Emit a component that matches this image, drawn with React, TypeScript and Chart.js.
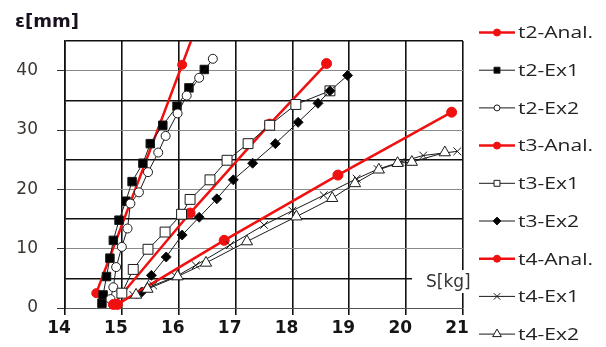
import React, { useEffect, useRef } from 'react';
import { Chart, registerables } from 'chart.js';

Chart.register(...registerables);

const seriesLabels = ['t2-Anal.', 't2-Ex1', 't2-Ex2', 't3-Anal.', 't3-Ex1', 't3-Ex2', 't4-Anal.', 't4-Ex1', 't4-Ex2'];

const t2AnalX = [14.55, 16.06, 16.45];
const t2AnalY = [2.5, 41.0, 51.0];

const t2Ex1X = [14.65, 14.67, 14.73, 14.79, 14.85, 14.95, 15.07, 15.18, 15.37, 15.5, 15.72, 15.97, 16.18, 16.45];
const t2Ex1Y = [0.8, 2.2, 5.3, 8.4, 11.4, 14.8, 18.0, 21.3, 24.4, 27.7, 30.8, 34.0, 37.1, 40.2];

const t2Ex2X = [14.8, 14.85, 14.9, 15.0, 15.1, 15.15, 15.3, 15.46, 15.64, 15.77, 15.98, 16.14, 16.36, 16.6];
const t2Ex2Y = [1.5, 3.5, 6.9, 10.3, 13.4, 17.6, 19.5, 22.9, 26.2, 29.0, 32.8, 35.8, 38.8, 42.0];

const t3AnalX = [14.85, 16.2, 17.6, 18.6];
const t3AnalY = [0.6, 16.0, 31.0, 41.2];

const t3Ex1X = [15.0, 15.2, 15.46, 15.76, 16.05, 16.2, 16.55, 16.85, 17.22, 17.6, 18.06, 18.66];
const t3Ex1Y = [2.5, 6.5, 9.9, 12.8, 15.8, 18.3, 21.6, 24.9, 27.7, 30.8, 34.3, 36.6];

const t3Ex2X = [15.35, 15.52, 15.78, 16.06, 16.36, 16.67, 16.96, 17.3, 17.7, 18.1, 18.45, 18.66, 18.97];
const t3Ex2Y = [2.7, 5.5, 8.6, 12.3, 15.3, 18.4, 21.6, 24.4, 27.7, 31.3, 34.5, 36.6, 39.2];

const t4AnalX = [14.92, 16.8, 18.8, 20.8];
const t4AnalY = [0.6, 11.4, 22.4, 33.0];

const t4Ex1X = [15.2, 15.55, 15.95, 16.3, 16.9, 17.5, 18.0, 18.55, 19.13, 19.5, 19.9, 20.3, 20.9];
const t4Ex1Y = [2.2, 3.8, 5.3, 7.2, 10.6, 14.0, 16.4, 19.0, 21.8, 23.4, 24.6, 25.7, 26.4];

const t4Ex2X = [15.25, 15.45, 15.98, 16.48, 17.2, 18.07, 18.7, 19.1, 19.52, 19.85, 20.1, 20.68];
const t4Ex2Y = [2.2, 3.2, 5.3, 7.6, 11.2, 15.4, 18.5, 21.0, 23.3, 24.4, 24.6, 26.2];

const xTickLabels = ['14', '15', '16', '17', '18', '19', '20', '21'];
const yTickLabels = ['0', '10', '20', '30', '40'];

const xTitle = 'S[kg]';
const yTitle = 'ε[mm]';

const RED = '#f01010';
const BLK = '#1a1a1a';

const toPts = (xs: number[], ys: number[]) => xs.map((x, i) => ({ x, y: ys[i] }));

type Style = { color: string; width: number; marker: string; r: number; fill: string; lr: number };
const styles: Style[] = [
  { color: RED, width: 2.5, marker: 'circle', r: 4.5, fill: RED, lr: 3.5 },
  { color: BLK, width: 1, marker: 'rect', r: 6, fill: '#000', lr: 4.2 },
  { color: BLK, width: 1, marker: 'circle', r: 4.5, fill: '#fff', lr: 3 },
  { color: RED, width: 2.5, marker: 'circle', r: 5, fill: RED, lr: 3.5 },
  { color: BLK, width: 1, marker: 'rect', r: 7, fill: '#fff', lr: 4.2 },
  { color: BLK, width: 1, marker: 'rectRot', r: 5, fill: '#000', lr: 4 },
  { color: RED, width: 2.5, marker: 'circle', r: 5, fill: RED, lr: 3.5 },
  { color: BLK, width: 1, marker: 'crossRot', r: 5.5, fill: '#fff', lr: 4.5 },
  { color: BLK, width: 1, marker: 'triangle', r: 6.5, fill: '#fff', lr: 5 },
];

const seriesData = [
  toPts(t2AnalX, t2AnalY), toPts(t2Ex1X, t2Ex1Y), toPts(t2Ex2X, t2Ex2Y),
  toPts(t3AnalX, t3AnalY), toPts(t3Ex1X, t3Ex1Y), toPts(t3Ex2X, t3Ex2Y),
  toPts(t4AnalX, t4AnalY), toPts(t4Ex1X, t4Ex1Y), toPts(t4Ex2X, t4Ex2Y),
];

function drawMarker(ctx: CanvasRenderingContext2D, s: Style, x: number, y: number, r: number) {
  ctx.save();
  ctx.beginPath();
  ctx.lineWidth = 1;
  ctx.strokeStyle = s.color;
  ctx.fillStyle = s.fill;
  if (s.marker === 'circle') {
    ctx.arc(x, y, r, 0, Math.PI * 2);
    ctx.fill();
    ctx.stroke();
  } else if (s.marker === 'rect') {
    const h = r * Math.SQRT1_2;
    ctx.rect(x - h, y - h, 2 * h, 2 * h);
    ctx.fill();
    ctx.stroke();
  } else if (s.marker === 'rectRot') {
    ctx.moveTo(x, y - r);
    ctx.lineTo(x + r, y);
    ctx.lineTo(x, y + r);
    ctx.lineTo(x - r, y);
    ctx.closePath();
    ctx.fill();
    ctx.stroke();
  } else if (s.marker === 'crossRot') {
    const h = r * Math.SQRT1_2;
    ctx.moveTo(x - h, y - h);
    ctx.lineTo(x + h, y + h);
    ctx.moveTo(x + h, y - h);
    ctx.lineTo(x - h, y + h);
    ctx.stroke();
  } else if (s.marker === 'triangle') {
    ctx.moveTo(x, y - r);
    ctx.lineTo(x + r * 0.866, y + r * 0.5);
    ctx.lineTo(x - r * 0.866, y + r * 0.5);
    ctx.closePath();
    ctx.fill();
    ctx.stroke();
  }
  ctx.restore();
}

function stretchedText(ctx: CanvasRenderingContext2D, text: string, x: number, y: number, font: string, color: string, sx: number) {
  ctx.save();
  ctx.font = font;
  ctx.fillStyle = color;
  ctx.textBaseline = 'middle';
  ctx.textAlign = 'left';
  ctx.translate(x, y);
  ctx.scale(sx, 1);
  ctx.fillText(text, 0, 0);
  ctx.restore();
}

const LEGEND_FONT = '17px "Open Sans"';

const overlayPlugin = {
  id: 'overlay',
  afterDraw(chart: any) {
    const ctx: CanvasRenderingContext2D = chart.ctx;
    ctx.save();
    ctx.font = LEGEND_FONT;
    const w = ctx.measureText(seriesLabels[0]).width;
    ctx.restore();
    const sx = w > 0 ? 75 / w : 1;
    seriesLabels.forEach((lab, i) => {
      const s = styles[i];
      const y = 32.5 + i * 37.7;
      ctx.save();
      ctx.strokeStyle = s.color;
      ctx.lineWidth = s.width;
      ctx.beginPath();
      ctx.moveTo(479, y);
      ctx.lineTo(515, y);
      ctx.stroke();
      ctx.restore();
      drawMarker(ctx, s, 497, y, s.lr);
      stretchedText(ctx, lab, 518, y + 1, LEGEND_FONT, '#222', sx);
    });
    stretchedText(ctx, yTitle, 15, 22, 'bold 18px "DejaVu Sans"', '#1a1020', 1.0);
    ctx.save();
    ctx.fillStyle = '#fff';
    ctx.fillRect(412, 270, 66, 23);
    ctx.restore();
    stretchedText(ctx, xTitle, 426, 283, '17px "DejaVu Sans"', '#333', 1.0);
  },
};

export default function App() {
  const ref = useRef<HTMLCanvasElement>(null);
  useEffect(() => {
    document.body.style.margin = '0';
    const canvas = ref.current!;
    const chart = new Chart(canvas, {
      type: 'scatter',
      data: {
        datasets: seriesData.map((d, i) => {
          const s = styles[i];
          return {
            label: seriesLabels[i],
            data: d,
            showLine: true,
            borderColor: s.color,
            borderWidth: s.width,
            backgroundColor: s.fill,
            pointStyle: s.marker as any,
            pointRadius: s.r,
            pointHoverRadius: s.r,
            pointBackgroundColor: s.fill,
            pointBorderColor: s.color,
            pointBorderWidth: 1,
            order: -i,
            clip: i === 0 ? { left: 10, right: 10, top: 0, bottom: 10 } : (false as any),
          };
        }),
      },
      options: {
        animation: false,
        responsive: false,
        devicePixelRatio: 1,
        layout: { padding: { top: 41, right: 143, bottom: 0, left: 0 } },
        plugins: { legend: { display: false }, tooltip: { enabled: false } },
        scales: {
          x: {
            type: 'linear',
            min: 14,
            max: 21,
            afterFit: (s: any) => { s.height = 39; },
            afterBuildTicks: (s: any) => {
              s.ticks = xTickLabels.map((t) => ({ value: Number(t) }));
            },
            ticks: {
              autoSkip: false,
              maxRotation: 0,
              padding: 3,
              color: '#151515',
              font: { family: 'DejaVu Sans', size: 17, weight: 'bold' },
              callback: (v: any) => {
                const lab = xTickLabels.find((t) => Number(t) === v);
                return lab ? lab + '  ' : '';
              },
            },
            grid: { color: '#111', lineWidth: 1.6, tickLength: 7, tickColor: '#111' },
            border: { display: true, color: '#555', width: 1 },
          },
          y: {
            type: 'linear',
            min: 0,
            max: 45,
            afterFit: (s: any) => { s.width = 65; },
            ticks: {
              stepSize: 5,
              padding: 19,
              color: '#3a3530',
              font: { family: 'DejaVu Sans', size: 17 },
              callback: (v: any) => (yTickLabels.includes(String(v)) ? String(v) : ''),
            },
            grid: {
              color: (c: any) => (c.tick && c.tick.value % 10 === 5 ? '#111' : '#8a8a8a'),
              lineWidth: (c: any) => (c.tick && c.tick.value % 10 === 5 ? 1.6 : 1),
              tickLength: 8,
              tickColor: (c: any) => (c.tick && c.tick.value % 10 === 0 ? '#333' : 'rgba(0,0,0,0)'),
              tickWidth: 1,
            },
            border: { display: true, color: '#111', width: 1.6 },
          },
        },
      },
      plugins: [overlayPlugin],
    });
    return () => chart.destroy();
  }, []);
  return (
    <div style={{ position: 'fixed', left: 0, top: 0, width: 606, height: 347, background: '#fff' }}>
      <canvas ref={ref} width={606} height={347} style={{ width: 606, height: 347, display: 'block' }} />
    </div>
  );
}
